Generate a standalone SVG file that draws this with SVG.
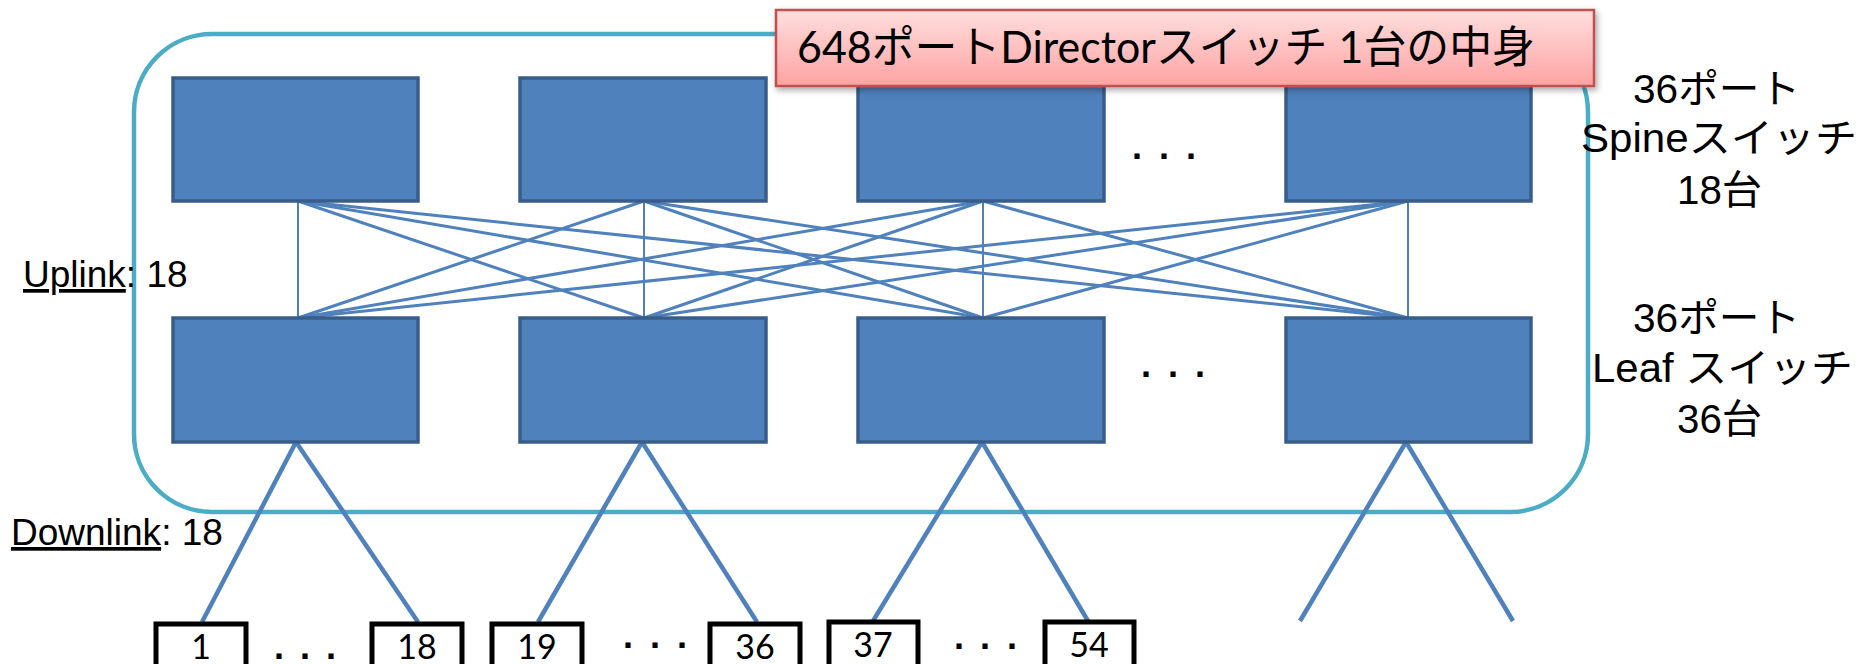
<svg xmlns="http://www.w3.org/2000/svg" width="1864" height="664" viewBox="0 0 1864 664">
<style>
.sw{fill:#4f81bd;stroke:#385d8a;stroke-width:3.5}
.mesh{stroke:#4f81bd;stroke-width:3;fill:none}
.vert{stroke:#4f81bd;stroke-width:2;fill:none}
.down{stroke:#4f81bd;stroke-width:4.5;fill:none}
.port{fill:#fff;stroke:#000;stroke-width:5}
.lbl{font-family:"Liberation Sans","Noto Sans CJK JP",sans-serif;font-size:37px;fill:#000}
.side{font-family:"Liberation Sans","Noto Sans CJK JP",sans-serif;font-size:40px;fill:#000}
.num{font-family:Lato,"Liberation Sans",sans-serif;font-size:34px;fill:#000;text-anchor:middle}
.dots{font-family:"Liberation Sans",sans-serif;font-size:36px;font-weight:bold;fill:#000}
</style>
<defs>
<linearGradient id="pink" x1="0" y1="0" x2="0" y2="1">
<stop offset="0" stop-color="#ffdede"/>
<stop offset="1" stop-color="#ffa3a3"/>
</linearGradient>
<filter id="shadow" x="-5%" y="-20%" width="110%" height="150%">
<feDropShadow dx="2" dy="3" stdDeviation="3" flood-color="#000" flood-opacity="0.35"/>
</filter>
</defs>
<rect width="1864" height="664" fill="#fff"/>
<g id="container">
<rect x="134" y="34" width="1454" height="478" rx="78" ry="78" fill="none" stroke="#4bacc6" stroke-width="4.5"/>
</g>
<g id="connectors">
<line class="vert" x1="298" y1="201" x2="298" y2="318"/>
<line class="mesh" x1="298" y1="201" x2="644" y2="318"/>
<line class="mesh" x1="298" y1="201" x2="983" y2="318"/>
<line class="mesh" x1="298" y1="201" x2="1408" y2="318"/>
<line class="mesh" x1="644" y1="201" x2="298" y2="318"/>
<line class="vert" x1="644" y1="201" x2="644" y2="318"/>
<line class="mesh" x1="644" y1="201" x2="983" y2="318"/>
<line class="mesh" x1="644" y1="201" x2="1408" y2="318"/>
<line class="mesh" x1="983" y1="201" x2="298" y2="318"/>
<line class="mesh" x1="983" y1="201" x2="644" y2="318"/>
<line class="vert" x1="983" y1="201" x2="983" y2="318"/>
<line class="mesh" x1="983" y1="201" x2="1408" y2="318"/>
<line class="mesh" x1="1408" y1="201" x2="298" y2="318"/>
<line class="mesh" x1="1408" y1="201" x2="644" y2="318"/>
<line class="mesh" x1="1408" y1="201" x2="983" y2="318"/>
<line class="vert" x1="1408" y1="201" x2="1408" y2="318"/>
<line class="down" x1="296" y1="442" x2="202" y2="622"/>
<line class="down" x1="296" y1="442" x2="418" y2="622"/>
<line class="down" x1="642" y1="442" x2="538" y2="622"/>
<line class="down" x1="642" y1="442" x2="757" y2="622"/>
<line class="down" x1="982" y1="442" x2="873" y2="621"/>
<line class="down" x1="982" y1="442" x2="1088" y2="621"/>
<line class="down" x1="1406" y1="442" x2="1300" y2="621"/>
<line class="down" x1="1406" y1="442" x2="1513" y2="621"/>
</g>
<g id="spine1"><rect class="sw" x="173" y="78" width="245" height="123"/></g>
<g id="spine2"><rect class="sw" x="520" y="78" width="246" height="123"/></g>
<g id="spine3"><rect class="sw" x="858" y="78" width="246" height="123"/></g>
<g id="spine4"><rect class="sw" x="1286" y="78" width="245" height="123"/></g>
<g id="leaf1"><rect class="sw" x="173" y="318" width="245" height="124"/></g>
<g id="leaf2"><rect class="sw" x="520" y="318" width="246" height="124"/></g>
<g id="leaf3"><rect class="sw" x="858" y="318" width="246" height="124"/></g>
<g id="leaf4"><rect class="sw" x="1286" y="318" width="245" height="124"/></g>
<g id="spine-dots"><text class="dots" x="1132 1145 1159 1172 1186" y="159">. . .</text></g>
<g id="leaf-dots"><text class="dots" x="1141 1154 1168 1181 1195" y="377">. . .</text></g>
<g id="title">
<rect x="776" y="10" width="818" height="76" fill="url(#pink)" stroke="#c0504d" stroke-width="2.5" filter="url(#shadow)"/>
<text x="797" y="63" font-family="Lato,'Noto Sans CJK JP',sans-serif" font-size="44" fill="#000" textLength="738" lengthAdjust="spacingAndGlyphs">648ポートDirectorスイッチ 1台の中身</text>
</g>
<g id="spine-label">
<text class="side" x="1633" y="103" textLength="167" lengthAdjust="spacingAndGlyphs">36ポート</text>
<text class="side" x="1581" y="152" textLength="276" lengthAdjust="spacingAndGlyphs">Spineスイッチ</text>
<text class="side" x="1677" y="204" textLength="85" lengthAdjust="spacingAndGlyphs">18台</text>
</g>
<g id="leaf-label">
<text class="side" x="1633" y="332" textLength="167" lengthAdjust="spacingAndGlyphs">36ポート</text>
<text class="side" x="1592" y="382" textLength="261" lengthAdjust="spacingAndGlyphs">Leaf スイッチ</text>
<text class="side" x="1677" y="433" textLength="85" lengthAdjust="spacingAndGlyphs">36台</text>
</g>
<g id="uplink-label"><text class="lbl" x="23" y="287"><tspan text-decoration="underline">Uplink</tspan>: 18</text></g>
<g id="downlink-label"><text class="lbl" x="11" y="545"><tspan text-decoration="underline">Downlink</tspan>: 18</text></g>
<g id="port1"><rect class="port" x="156" y="624" width="90" height="60"/><text class="num" x="201" y="659">1</text></g>
<g id="dots1"><text class="dots" x="274 287 300 313 326" y="659">. . .</text></g>
<g id="port18"><rect class="port" x="372" y="624" width="90" height="60"/><text class="num" x="417" y="659">18</text></g>
<g id="port19"><rect class="port" x="492" y="624" width="90" height="60"/><text class="num" x="537" y="659">19</text></g>
<g id="dots2"><text class="dots" x="623 636 650 663 677" y="648">. . .</text></g>
<g id="port36"><rect class="port" x="710" y="624" width="90" height="60"/><text class="num" x="755" y="659">36</text></g>
<g id="port37"><rect class="port" x="829" y="622" width="89" height="60"/><text class="num" x="873" y="657">37</text></g>
<g id="dots3"><text class="dots" x="954 967 980 993 1007" y="649">. . .</text></g>
<g id="port54"><rect class="port" x="1045" y="622" width="89" height="60"/><text class="num" x="1089" y="657">54</text></g>
</svg>
